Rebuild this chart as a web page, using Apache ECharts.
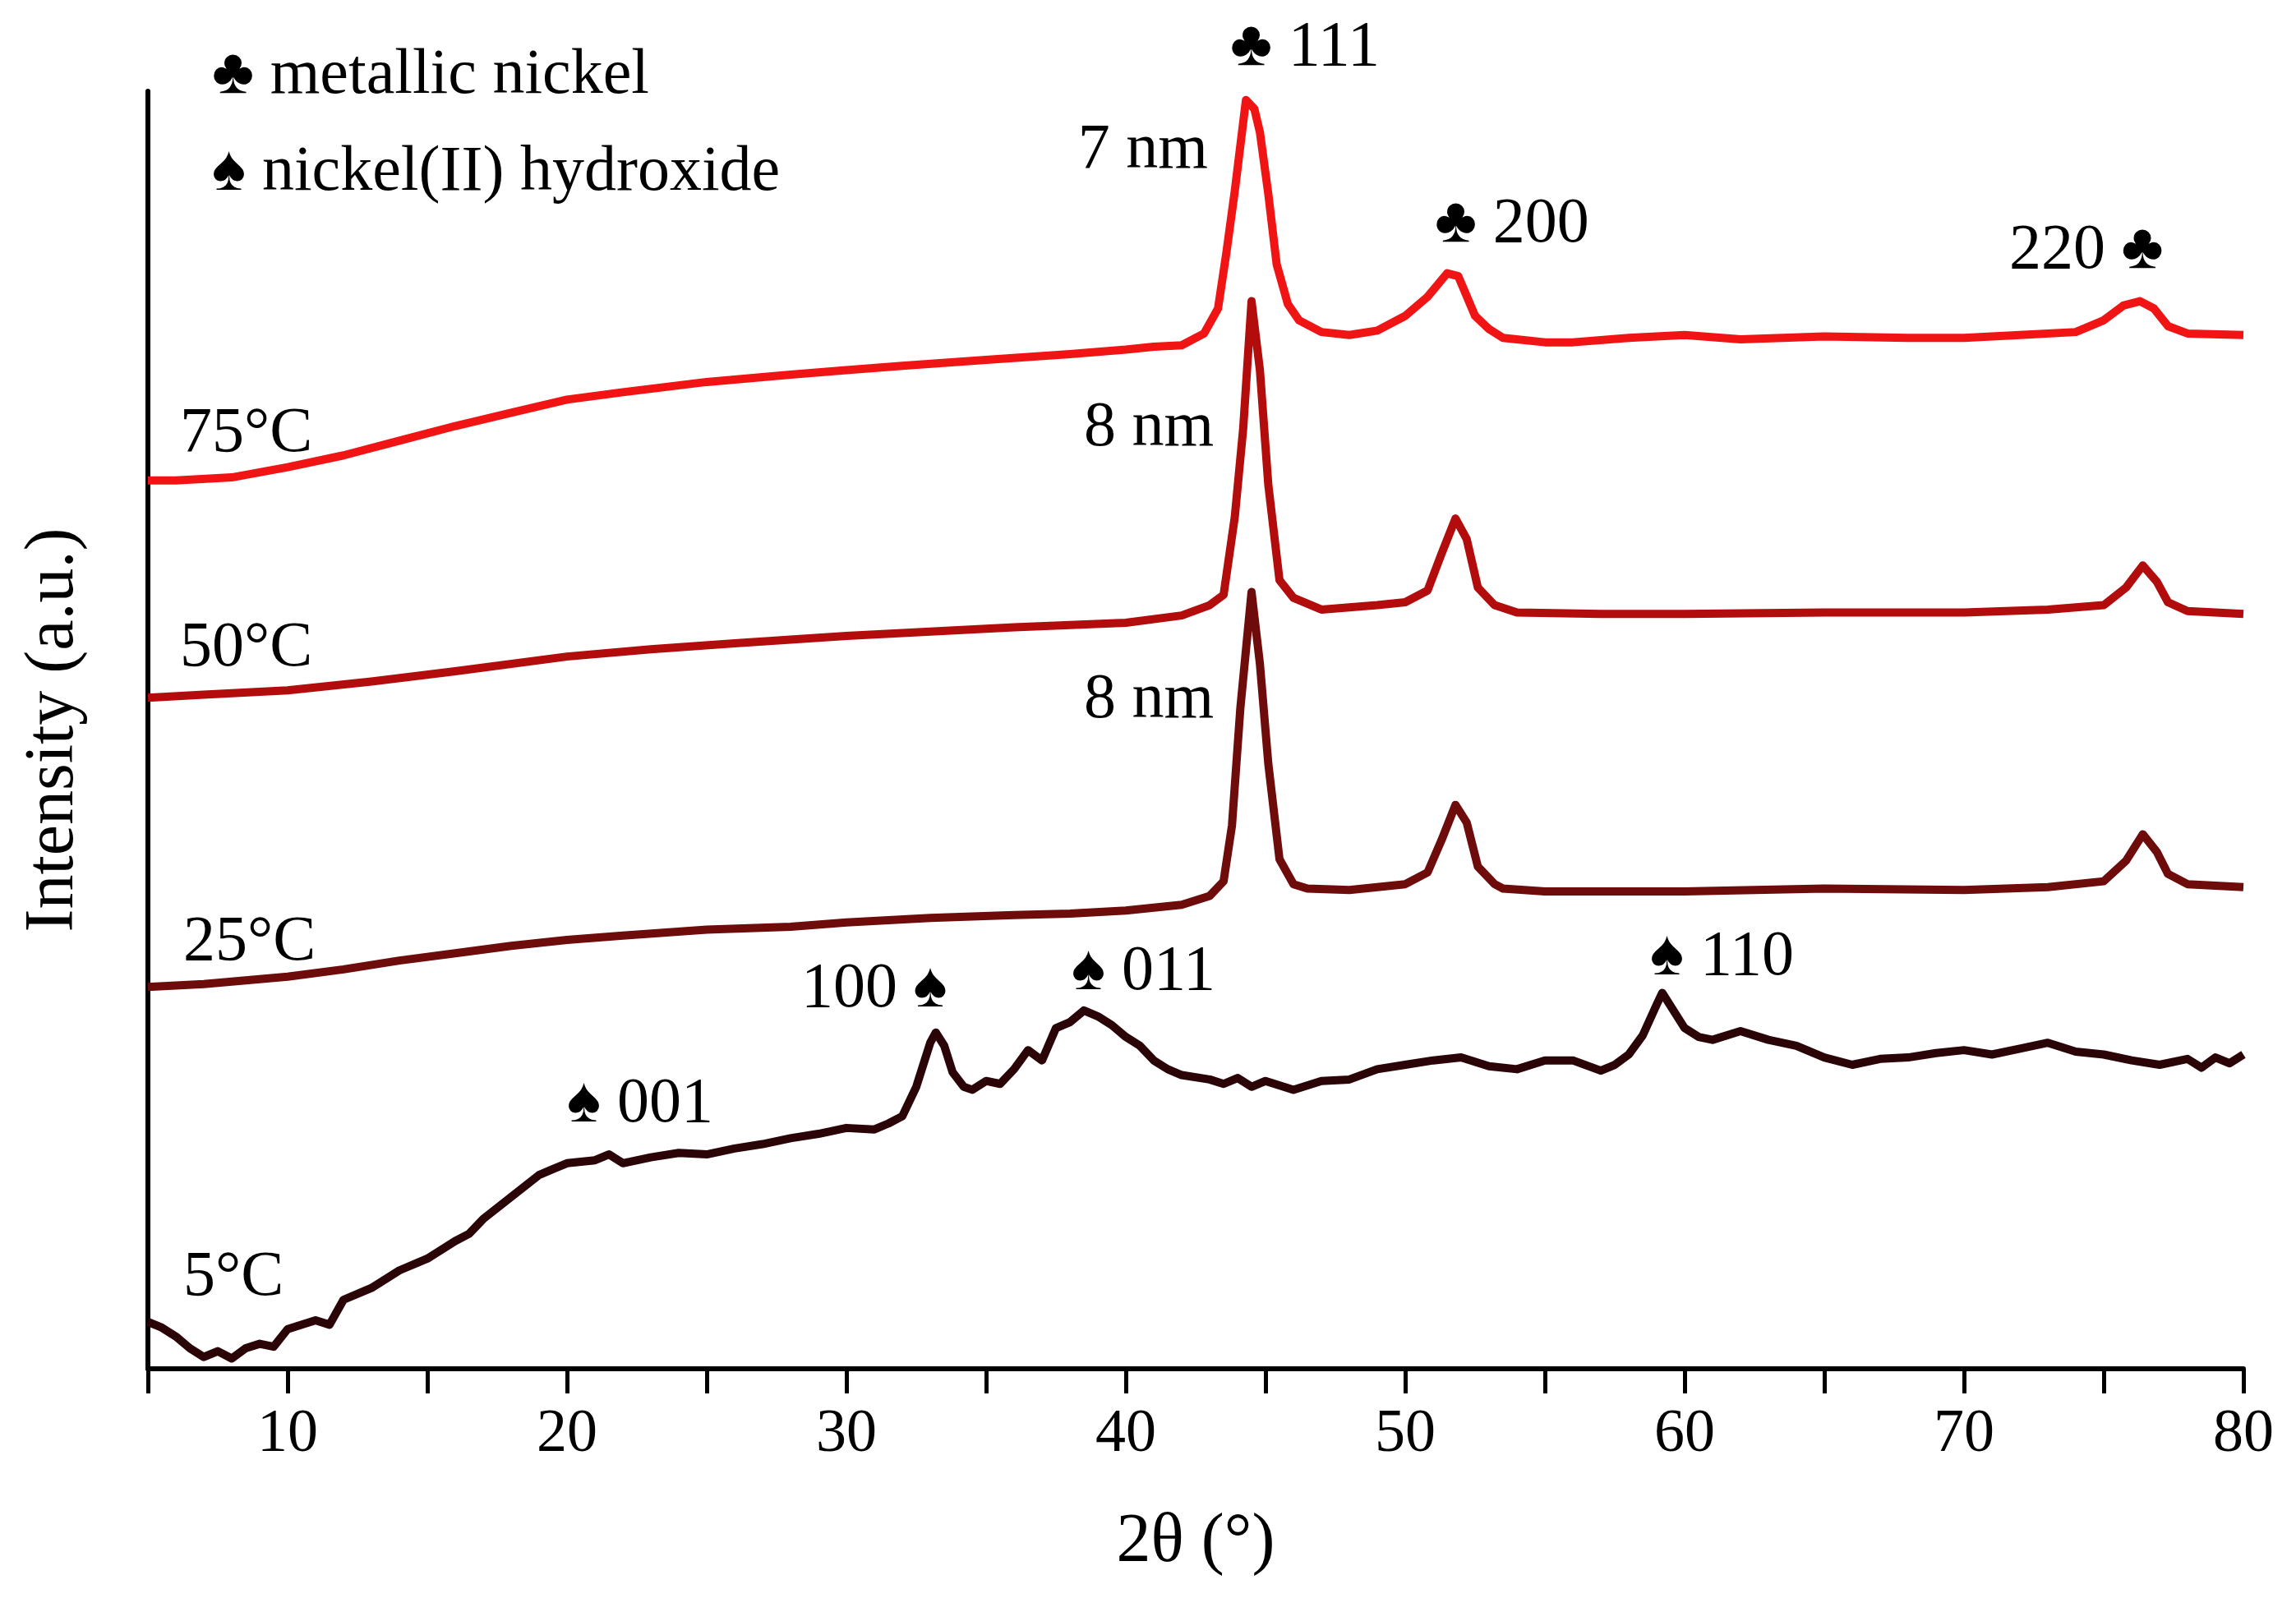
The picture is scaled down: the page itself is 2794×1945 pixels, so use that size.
<!DOCTYPE html>
<html>
<head>
<meta charset="utf-8">
<script src="https://cdn.jsdelivr.net/npm/echarts@6/dist/echarts.min.js"></script>
<style>html,body{margin:0;padding:0;background:#fff}#chart{width:2794px;height:1945px}</style>
</head>
<body>
<div id="chart"></div>
<script>
"use strict";
// 2theta / intensity (arbitrary, offset) pairs
var s5C = [[5,32],[5.5,28],[6,22],[6.5,14],[7,8],[7.5,12],[8,7],[8.5,14],[9,17],[9.5,15],[10,27],[11,33],[11.5,30],[12,47],[13,55],[14,67],[15,75],[16,87],[16.5,92],[17,102],[18,117],[19,132],[19.5,136],[20,140],[21,142],[21.5,146],[22,140],[23,144],[24,147],[25,146],[26,150],[27,153],[28,157],[29,160],[30,164],[31,163],[31.5,167],[32,172],[32.5,192],[33,222],[33.2,229],[33.5,220],[33.8,202],[34.2,192],[34.5,190],[35,196],[35.5,194],[36,204],[36.5,217],[37,210],[37.5,232],[38,236],[38.5,244],[39,240],[39.5,234],[40,226],[40.5,220],[41,210],[41.5,204],[42,200],[43,197],[43.5,194],[44,198],[44.5,192],[45,196],[46,190],[47,196],[48,197],[49,204],[50,207],[51,210],[52,212],[53,206],[54,204],[55,210],[56,210],[57,203],[57.5,207],[58,214],[58.5,227],[59,248],[59.2,256],[59.6,244],[60,232],[60.5,226],[61,224],[62,230],[63,224],[64,220],[65,212],[66,207],[67,211],[68,212],[69,215],[70,217],[71,214],[72,218],[73,222],[74,216],[75,214],[76,210],[77,207],[78,211],[78.5,205],[79,212],[79.5,208],[80,214]];
var s25C = [[5,260],[7,262],[10,267],[12,272],[14,278],[16,283],[18,288],[20,292],[22,295],[25,299],[28,301],[30,304],[33,307],[36,309],[38,310],[40,312],[42,316],[43,322],[43.5,332],[43.8,370],[44.1,450],[44.5,529],[44.8,480],[45.1,412],[45.5,347],[46,330],[46.5,327],[48,326],[50,330],[50.8,338],[51.3,360],[51.8,384],[52.2,372],[52.6,342],[53.2,330],[53.5,327],[55,325],[58,325],[60,325],[65,327],[70,326],[73,328],[75,332],[75.8,346],[76.4,364],[76.9,352],[77.3,337],[78,330],[80,328]];
var s50C = [[5,457],[7,459],[10,462],[13,468],[16,475],[20,485],[23,490],[26,494],[30,499],[33,502],[36,505],[40,508],[42,513],[43,520],[43.5,527],[43.9,580],[44.2,640],[44.5,727],[44.8,680],[45.1,602],[45.5,537],[46,525],[47,517],[49,520],[50,522],[50.8,530],[51.3,555],[51.8,579],[52.2,565],[52.6,532],[53.2,520],[54,515],[57,514],[60,514],[65,515],[70,515],[73,517],[75,520],[75.8,532],[76.4,547],[76.9,536],[77.3,522],[78,516],[80,514]];
var s75C = [[5,605],[6,605],[8,607],[10,614],[12,622],[14,632],[16,642],[18,651],[20,660],[22,665],[25,672],[28,677],[30,680],[32,683],[35,687],[38,691],[40,694],[41,696],[42,697],[42.8,705],[43.3,722],[43.6,760],[43.9,802],[44.3,864],[44.6,858],[44.8,842],[45.1,800],[45.4,752],[45.8,725],[46.2,714],[47,706],[48,704],[49,707],[50,717],[50.8,730],[51.5,746],[51.9,744],[52.5,717],[53,708],[53.5,702],[55,699],[56,699],[58,702],[60,704],[62,701],[65,703],[68,702],[70,702],[72,704],[74,706],[75,714],[75.7,724],[76.3,727],[76.8,722],[77.3,710],[78,705],[80,704]];

var seriesNames = ["5°C", "25°C", "50°C", "75°C"];
var seriesData = [s5C, s25C, s50C, s75C];
var seriesColors = ["#2b0408", "#6e0b0b", "#b20c0c", "#f01414"];

var chart = echarts.init(document.getElementById("chart"));
var font = "'Liberation Serif', 'DejaVu Serif', serif";

function txt(x, y, s, align) {
    return {
        type: "text", x: x, y: y,
        style: {text: s, font: "78px " + font, fill: "#000", align: align || "left", verticalAlign: "middle"}
    };
}

var series = seriesData.map(function (d, i) {
    return {
        name: seriesNames[i], type: "line", data: d, showSymbol: false,
        lineStyle: {color: seriesColors[i], width: 10, join: "round"}, z: 2 + i
    };
});

chart.setOption({
    animation: false,
    backgroundColor: "#fff",
    grid: {left: 180, right: 64, top: 111, bottom: 279, outerBoundsMode: "none"},
    xAxis: {
        type: "value", min: 5, max: 80, interval: 5,
        axisLine: {lineStyle: {color: "#000", width: 6}},
        axisTick: {length: 30, lineStyle: {color: "#000", width: 5}},
        axisLabel: {
            color: "#000", fontSize: 74, fontFamily: font, margin: 44,
            formatter: function (v) { return v % 10 === 0 ? String(v) : ""; }
        },
        splitLine: {show: false},
        name: "2θ (°)", nameLocation: "middle", nameGap: 170,
        nameTextStyle: {color: "#000", fontSize: 84, fontFamily: font}
    },
    yAxis: {
        type: "value", min: 0, max: 870,
        axisLine: {show: true, lineStyle: {color: "#000", width: 6}},
        axisTick: {show: false}, axisLabel: {show: false}, splitLine: {show: false},
        name: "Intensity (a.u.)", nameLocation: "middle", nameGap: 72,
        nameTextStyle: {color: "#000", fontSize: 84, fontFamily: font}
    },
    series: series,
    graphic: [
        txt(258, 93, "♣ metallic nickel"),
        txt(258, 211, "♠ nickel(II) hydroxide"),
        txt(1497, 59, "♣ 111"),
        txt(1470, 184, "7 nm", "right"),
        txt(1746, 274, "♣ 200"),
        txt(2445, 306, "220 ♣"),
        txt(219, 529, "75°C"),
        txt(1319, 522, "8 nm"),
        txt(219, 790, "50°C"),
        txt(1319, 853, "8 nm"),
        txt(223, 1148, "25°C"),
        txt(975, 1205, "100 ♠"),
        txt(1304, 1184, "♠ 011"),
        txt(2008, 1166, "♠ 110"),
        txt(690, 1345, "♠ 001"),
        txt(223, 1556, "5°C")
    ]
});
</script>
</body>
</html>
